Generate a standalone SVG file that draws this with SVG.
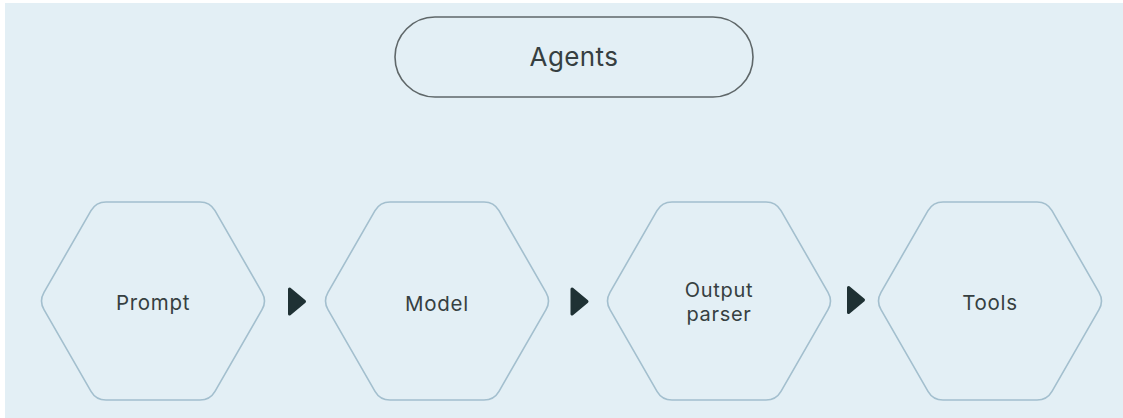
<svg xmlns="http://www.w3.org/2000/svg" width="1123" height="418" viewBox="0 0 1123 418">
  <style>
    .bg { fill: #e3eff5; }
    .pill { fill: none; stroke: #5f6769; stroke-width: 1.6; }
    .hex { fill: none; stroke: #a3bfce; stroke-width: 1.6; }
    .label { font-family: Inter, "Noto Sans", "Liberation Sans", sans-serif; font-weight: 400; fill: #363f41; text-anchor: middle; }
    .title { font-size: 26px; letter-spacing: 0.4px; }
    .node-text { font-size: 20.5px; letter-spacing: 0.7px; }
    .two-line { font-size: 20px; }
    .arrow { fill: #1f3134; stroke: #1f3134; stroke-width: 3; stroke-linejoin: round; }
  </style>
  <defs>
    <!-- flat-topped hexagon with softened corners, centred on the origin -->
    <path id="hexShape" d="M-109,-8.67 L-62,-90.33 Q-57,-99 -47,-99 L47,-99 Q57,-99 62,-90.33 L109,-8.67 Q114,0 109,8.67 L62,90.33 Q57,99 47,99 L-47,99 Q-57,99 -62,90.33 L-109,8.67 Q-114,0 -109,-8.67 Z"/>
    <!-- solid pointer between steps -->
    <path id="pointer" d="M0,-12.5 L15,0 L0,12.5 Z"/>
  </defs>

  <rect class="bg" x="5" y="3" width="1118" height="415"/>

  <g id="agents">
    <rect class="pill" x="395" y="17" width="358" height="80" rx="40" ry="40"/>
    <text class="label title" x="574" y="66">Agents</text>
  </g>

  <g id="prompt">
    <use href="#hexShape" class="hex" transform="translate(153,301)"/>
    <text class="label node-text" x="153" y="310">Prompt</text>
  </g>

  <g id="model">
    <use href="#hexShape" class="hex" transform="translate(437,301)"/>
    <text class="label node-text" x="437" y="311">Model</text>
  </g>

  <g id="output-parser">
    <use href="#hexShape" class="hex" transform="translate(719,301)"/>
    <text class="label node-text two-line" x="719" y="296.5">Output</text>
    <text class="label node-text two-line" x="719" y="321">parser</text>
  </g>

  <g id="tools">
    <use href="#hexShape" class="hex" transform="translate(990,301)"/>
    <text class="label node-text" x="990" y="310">Tools</text>
  </g>

  <g id="connectors">
    <use href="#pointer" class="arrow" transform="translate(289.5,301.5)"/>
    <use href="#pointer" class="arrow" transform="translate(572,301.5)"/>
    <use href="#pointer" class="arrow" transform="translate(848.5,300)"/>
  </g>
</svg>
